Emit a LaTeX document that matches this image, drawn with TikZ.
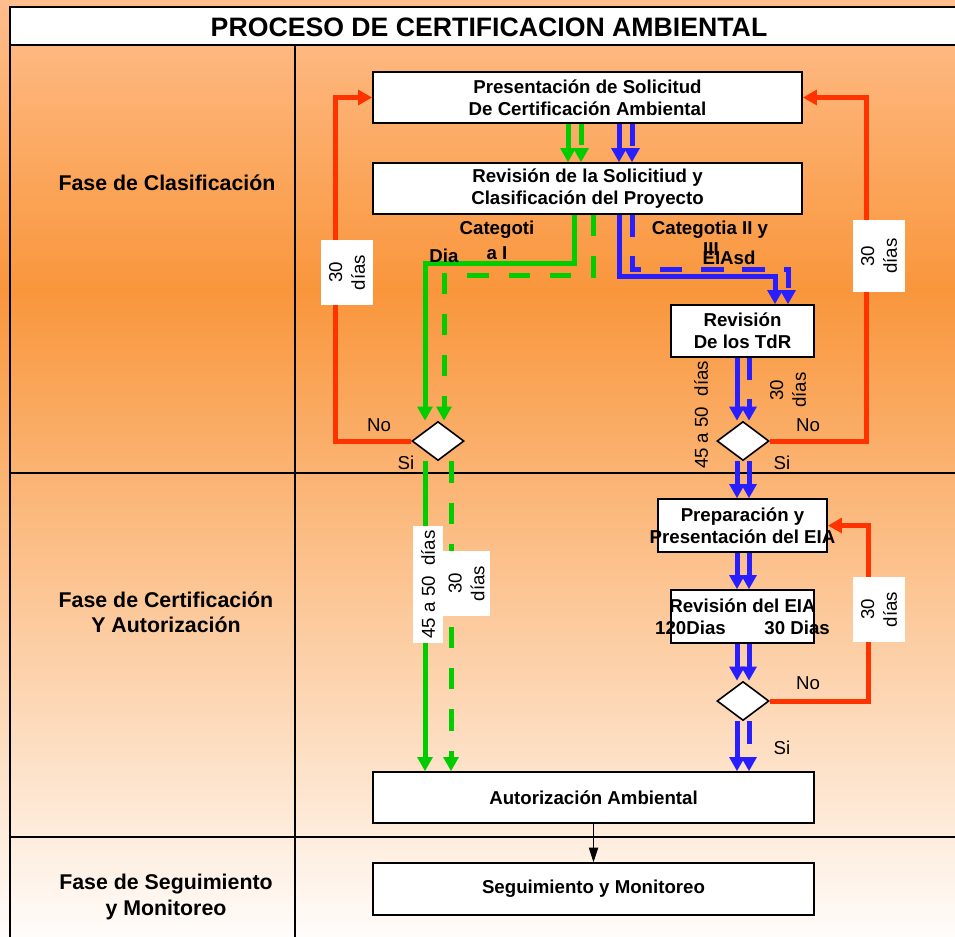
\documentclass[tikz,border=0pt]{standalone}
\usepackage{fontspec}
\setmainfont{Liberation Sans}
\usetikzlibrary{arrows.meta,shapes.geometric}
\definecolor{verdeL}{RGB}{0,204,0}
\definecolor{azulL}{RGB}{40,30,255}
\definecolor{rojoL}{RGB}{255,51,0}
\definecolor{naranja}{RGB}{249,150,60}
\definecolor{naranjaC}{RGB}{255,190,140}
\definecolor{blancoC}{RGB}{255,252,250}

\begin{document}
\begin{tikzpicture}[x=0.75pt, y=-0.75pt,
    paso/.style={draw, line width=1.2pt, fill=white, inner sep=0pt, align=center, font=\fontsize{14}{16.5}\selectfont\bfseries},
    decision/.style={diamond, draw, line width=1.2pt, fill=white, inner sep=0pt, minimum width=39pt, minimum height=29.25pt},
    flecha/.style={line width=3.75pt, -{Triangle[width=11pt, length=10.5pt]}},
    verde/.style={flecha, verdeL},
    verdeg/.style={verde, dash pattern=on 16pt off 15pt},
    azul/.style={flecha, azulL},
    azulg/.style={azul, dash pattern=on 17pt off 14pt},
    rojo/.style={flecha, rojoL},
    fase/.style={align=center, font=\fontsize{16}{19}\selectfont\bfseries},
    texto/.style={font=\fontsize{14}{17}\selectfont, inner sep=0pt},
    dias/.style={texto, rotate=90, align=center},
    etiq/.style={dias, fill=white},
    categ/.style={texto, font=\fontsize{14}{17}\selectfont\bfseries}]
    \useasboundingbox (0,0) rectangle (955,936);
    \clip (0,0) rectangle (955,936);
    \shade[top color=naranjaC, bottom color=naranja] (0,0) rectangle (955,290);
    \shade[top color=naranja, bottom color=blancoC] (0,290) rectangle (955,936);
    \draw[line width=1.5pt] (10,950)--(10,45);
    \draw[line width=2pt, fill=white] (10,7) rectangle (970,45);
    \draw[line width=1.5pt] (10,473)--(970,473) (10,837)--(970,837) (295,45)--(295,950);
    \node[font=\fontsize{20}{24}\selectfont\bfseries] (titulo) at (489,27) {PROCESO DE CERTIFICACION AMBIENTAL};

    \node[fase] (fclas) at (167,183) {Fase de Clasificación};
    \node[fase] (fcert) at (166,612) {Fase de Certificación\\Y Autorización};
    \node[fase] (fseg) at (166,897) {Fase de Seguimiento\\y Monitoreo};

    \node[paso, minimum width=321.75pt, minimum height=38.25pt] (pres) at (587.5,97.5) {Presentación de Solicitud\\De Certificación Ambiental};
    \node[paso, minimum width=321.75pt, minimum height=38.25pt] (clas) at (587.5,188.5) {Revisión de la Solicitiud y\\Clasificación del Proyecto};
    \node[paso, minimum width=107.25pt, minimum height=39pt] (tdr) at (742.5,331) {Revisión\\De los TdR};
    \node[paso, minimum width=126.75pt, minimum height=39.75pt] (prep) at (742.5,525.5) {\makebox[0pt]{Preparación y}\\\makebox[0pt]{Presentación del EIA}};
    \node[paso, minimum width=107.25pt, minimum height=39.75pt] (reia) at (742.5,616.5) {\makebox[0pt]{Revisión del EIA}\\\makebox[0pt]{120Dias\hspace{29pt}30 Dias}};
    \node[paso, minimum width=330.75pt, minimum height=38.25pt] (aut) at (593.5,797.5) {Autorización Ambiental};
    \node[paso, minimum width=330.75pt, minimum height=39pt] (seg) at (593.5,889) {Seguimiento y Monitoreo};
    \node[decision] (dl) at (438,441) {};
    \node[decision] (dr) at (743,441) {};
    \node[decision] (dr2) at (743,701) {};

    \draw[verde] (pres.south -| 568,0)--(clas.north -| 568,0);
    \draw[verdeg] (pres.south -| 581,0)--(clas.north -| 581,0);
    \draw[azul] (pres.south -| 619,0)--(clas.north -| 619,0);
    \draw[azulg] (pres.south -| 632,0)--(clas.north -| 632,0);
    \draw[verde] (clas.south -| 574,0)--++(0,49) -| (dl.north -| 425,0);
    \draw[verdeg] (clas.south -| 593,0)--++(0,61) -| (dl.north -| 444,0);
    \draw[azul] (clas.south -| 619,0)--++(0,62) -| (tdr.north -| 775,0);
    \draw[azulg] (clas.south -| 632,0)--++(0,55) -| (tdr.north -| 788,0);
    \draw[azul] (tdr.south -| 737,0)--(dr.north -| 737,0);
    \draw[azulg] (tdr.south -| 749,0)--(dr.north -| 749,0);
    \draw[azul] (dr.south -| 737,0)--(prep.north -| 737,0);
    \draw[azul] (dr.south -| 749,0)--(prep.north -| 749,0);
    \draw[azul] (prep.south -| 737,0)--(reia.north -| 737,0);
    \draw[azul] (prep.south -| 749,0)--(reia.north -| 749,0);
    \draw[azul] (reia.south -| 737,0)--(dr2.north -| 737,0);
    \draw[azul] (reia.south -| 749,0)--(dr2.north -| 749,0);
    \draw[azul] (dr2.south -| 737,0)--(aut.north -| 737,0);
    \draw[azulg] (dr2.south -| 749,0)--(aut.north -| 749,0);
    \draw[verde] (dl.south -| 425,0)--(aut.north -| 425,0);
    \draw[verdeg] (dl.south -| 451,0)--(aut.north -| 451,0);
    \draw[rojo] (dl.west) -| (pres.west -| 335,0)--(pres.west);
    \draw[rojo] (dr.east) -| (pres.east -| 866,0)--(pres.east);
    \draw[rojo] (dr2.east) -| (prep.east -| 868,0)--(prep.east);
    \draw[line width=0.8pt, -{Triangle[width=7pt, length=11pt]}] (aut)--(seg);

    \node[etiq, minimum width=48.75pt, minimum height=39pt] (e1) at (347,272.5) {30\\días};
    \node[etiq, minimum width=54pt, minimum height=39pt] (e2) at (879,256) {30\\días};
    \node[etiq, minimum width=48.75pt, minimum height=39pt] (e3) at (879,609.5) {30\\días};
    \node[etiq, minimum width=87.75pt, minimum height=22.5pt] (e4) at (428,584.5) {45 a 50\ \ días};
    \node[etiq, minimum width=48.75pt, minimum height=35.25pt] (e5) at (466.5,583.5) {30\\días};
    \node[dias] (e6) at (701,415) {45 a 50\ \ días};
    \node[dias] (e7) at (788,390) {30\\días};
    \node[texto] (no1) at (379,425) {No};
    \node[texto] (si1) at (406,463) {Si};
    \node[texto] (no2) at (808,425) {No};
    \node[texto] (si2) at (782,463) {Si};
    \node[texto] (no3) at (808,683) {No};
    \node[texto] (si3) at (782,748) {Si};
    \node[categ] (c1) at (497,230) {Categoti};
    \node[categ] (c1b) at (497,253) {a I};
    \node[categ] (c1c) at (444,256) {Dia};
    \node[categ] (c2) at (710,230) {Categotia II y};
    \node[categ] (c2b) at (711,249) {III};
    \node[categ] (c2c) at (729,258) {EIAsd};
\end{tikzpicture}
\end{document}
